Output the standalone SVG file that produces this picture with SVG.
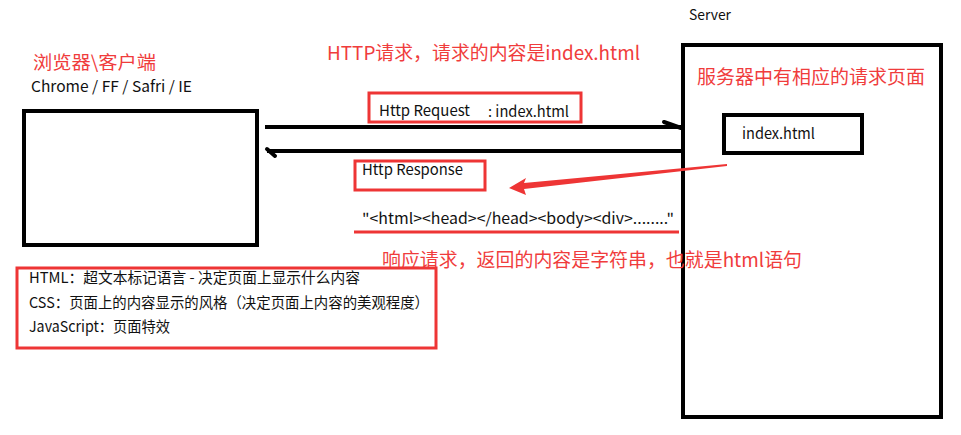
<svg xmlns="http://www.w3.org/2000/svg" width="961" height="435" viewBox="0 0 961 435">
<style>
.bk{fill:none;stroke:#000;stroke-width:4}
.rb{fill:none;stroke:#ee3535;stroke-width:3}
.t{font-family:"Noto Sans CJK SC","Noto Sans",sans-serif;fill:#111}
.r{font-family:"Noto Sans CJK SC","Noto Sans",sans-serif;fill:#f03c3c}
</style>
<rect width="961" height="435" fill="#fff"/>
<g id="browser">
<text class="r" x="33" y="69" font-size="18" textLength="123" lengthAdjust="spacingAndGlyphs">浏览器\客户端</text>
<text class="t" x="31" y="92" font-size="15" textLength="161" lengthAdjust="spacingAndGlyphs">Chrome / FF / Safri / IE</text>
<rect class="bk" x="24" y="111" width="233" height="134"/>
</g>
<g id="server">
<text class="t" x="689" y="20" font-size="14" textLength="42" lengthAdjust="spacingAndGlyphs">Server</text>
<rect class="bk" x="683" y="45" width="258" height="372"/>
<text class="r" x="697" y="84" font-size="19" textLength="228" lengthAdjust="spacingAndGlyphs">服务器中有相应的请求页面</text>
</g>
<g id="index-file">
<rect class="bk" x="724" y="115" width="138" height="38"/>
<text class="t" x="742" y="139" font-size="15" textLength="73" lengthAdjust="spacingAndGlyphs">index.html</text>
</g>
<g id="request-label">
<text class="r" x="327" y="60" font-size="19" textLength="313" lengthAdjust="spacingAndGlyphs">HTTP请求，请求的内容是index.html</text>
<rect class="rb" x="369" y="93" width="212" height="29"/>
<text class="t" x="379" y="116" font-size="15" textLength="91" lengthAdjust="spacingAndGlyphs">Http Request</text>
<text class="t" x="488" y="117" font-size="15" textLength="81" lengthAdjust="spacingAndGlyphs">: index.html</text>
</g>
<g id="response-label">
<rect class="rb" x="355" y="161" width="130" height="29"/>
<text class="t" x="362" y="175" font-size="15" textLength="101" lengthAdjust="spacingAndGlyphs">Http Response</text>
<text class="t" x="362" y="224" font-size="15" textLength="312" lengthAdjust="spacingAndGlyphs">"&lt;html&gt;&lt;head&gt;&lt;/head&gt;&lt;body&gt;&lt;div&gt;........"</text>
<line x1="354" y1="232" x2="679" y2="232" stroke="#ee3535" stroke-width="3"/>
<text class="r" x="382" y="267" font-size="19" textLength="420" lengthAdjust="spacingAndGlyphs">响应请求，返回的内容是字符串，也就是html语句</text>
</g>
<g id="notes">
<rect class="rb" x="17" y="268" width="419" height="80"/>
<text class="t" x="29" y="283" font-size="15" textLength="331" lengthAdjust="spacingAndGlyphs">HTML：超文本标记语言 - 决定页面上显示什么内容</text>
<text class="t" x="29" y="308" font-size="15" textLength="400" lengthAdjust="spacingAndGlyphs">CSS：页面上的内容显示的风格（决定页面上内容的美观程度）</text>
<text class="t" x="29" y="332" font-size="15" textLength="141" lengthAdjust="spacingAndGlyphs">JavaScript：页面特效</text>
</g>
<g id="connectors">
<line x1="265" y1="127" x2="681" y2="127" stroke="#000" stroke-width="4"/>
<line x1="664" y1="122" x2="681" y2="128" stroke="#000" stroke-width="4" stroke-linecap="round"/>
<line x1="267" y1="151" x2="681" y2="151" stroke="#000" stroke-width="4"/>
<line x1="267" y1="149" x2="275" y2="156" stroke="#000" stroke-width="4" stroke-linecap="round"/>
<polygon points="727,164 524,183 526,178 509,188 526,195 524,189 727,166" fill="#ee3535"/>
</g>
</svg>
